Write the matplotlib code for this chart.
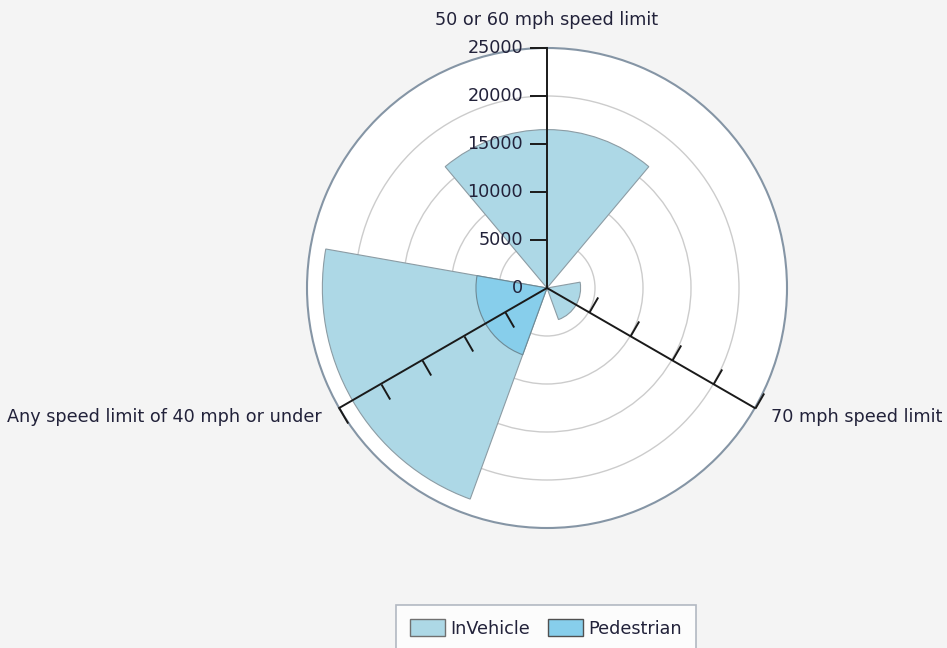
import numpy as np
import matplotlib
matplotlib.use("Agg")
import matplotlib.pyplot as plt
from matplotlib.path import Path
from matplotlib.markers import MarkerStyle
from matplotlib.transforms import Affine2D
from matplotlib.patches import Patch

# ---- data ----
categories = ["50 or 60 mph speed limit", "70 mph speed limit",
              "Any speed limit of 40 mph or under"]
cat_angles_deg = [0, 120, 240]
series_names = ["InVehicle", "Pedestrian"]
invehicle = [16500, 3500, 23400]
pedestrian = [0, 0, 7400]
r_ticks = [0, 5000, 10000, 15000, 20000, 25000]
r_max = 25000

# ---- style ----
bg = "#F4F4F4"
col_inveh = "#ADD8E6"
col_ped = "#87CEEB"
text_col = "#22223a"
fs = 12.7

plt.rcParams["font.family"] = ["DejaVu Sans"]

fig = plt.figure(figsize=(9.47, 6.48), dpi=100, facecolor=bg)
ax = fig.add_axes([307 / 947, 120 / 648, 480 / 947, 480 / 648], projection="polar")
ax.set_facecolor("white")
ax.set_theta_zero_location("N")
ax.set_theta_direction(-1)
ax.set_ylim(0, r_max)
ax.set_xticks([])
ax.set_yticks(r_ticks[1:-1])
ax.set_yticklabels([])
ax.yaxis.grid(True, color="#cccccc", linewidth=1.0)
ax.set_axisbelow(True)
ax.spines["polar"].set_color("#8595a5")
ax.spines["polar"].set_linewidth(1.5)

theta = np.deg2rad(cat_angles_deg)
width = np.deg2rad(80)
ax.bar(theta, invehicle, width=width, bottom=0, color=col_inveh,
       edgecolor="#8c9ca4", linewidth=0.8, zorder=2, align="center")
ax.bar(theta, pedestrian, width=width, bottom=0, color=col_ped,
       edgecolor="#6d8a96", linewidth=0.8, zorder=3, align="center")

# category axes with ticks
tick_path = Path([(0, 0), (1, 0)])
for ang, th in zip(cat_angles_deg, theta):
    ax.plot([th, th], [0, r_max], color="#1a1a1a", lw=1.4, zorder=5,
            clip_on=False)
    ms = MarkerStyle(tick_path, transform=Affine2D().rotate_deg(180 - ang))
    ax.plot([th] * (len(r_ticks) - 1), r_ticks[1:], linestyle="none",
            marker=ms, markersize=25, markeredgewidth=1.4,
            markeredgecolor="#1a1a1a", zorder=5, clip_on=False)

# radial labels on the top axis
for r in r_ticks:
    ax.annotate(str(r), xy=(0, r), xytext=(-24, 0), textcoords="offset pixels",
                ha="right", va="center", fontsize=fs, color=text_col,
                annotation_clip=False, zorder=6)

# category labels
offsets = [(0, 28, "center"), (16, -9, "left"), (-17, -9, "right")]
for lab, th, (dx, dy, ha) in zip(categories, theta, offsets):
    ax.annotate(lab, xy=(th, r_max), xytext=(dx, dy), textcoords="offset pixels",
                ha=ha, va="center", fontsize=fs, color=text_col,
                annotation_clip=False)

# legend
handles = [Patch(facecolor=col_inveh, edgecolor="#707070", linewidth=1.0),
           Patch(facecolor=col_ped, edgecolor="#505050", linewidth=1.0)]
leg = fig.legend(handles, series_names, loc="upper center",
                 bbox_to_anchor=(546 / 947, 1 - 605 / 648), ncol=2,
                 fontsize=fs, frameon=True, fancybox=False,
                 handlelength=2.0, handleheight=1.1, handletextpad=0.3,
                 columnspacing=1.0, borderpad=0.8, borderaxespad=0)
leg.get_frame().set_edgecolor("#a0a8b4")
leg.get_frame().set_linewidth(1.2)
for t in leg.get_texts():
    t.set_color(text_col)

fig.savefig("out.png", dpi=100, facecolor=bg)
